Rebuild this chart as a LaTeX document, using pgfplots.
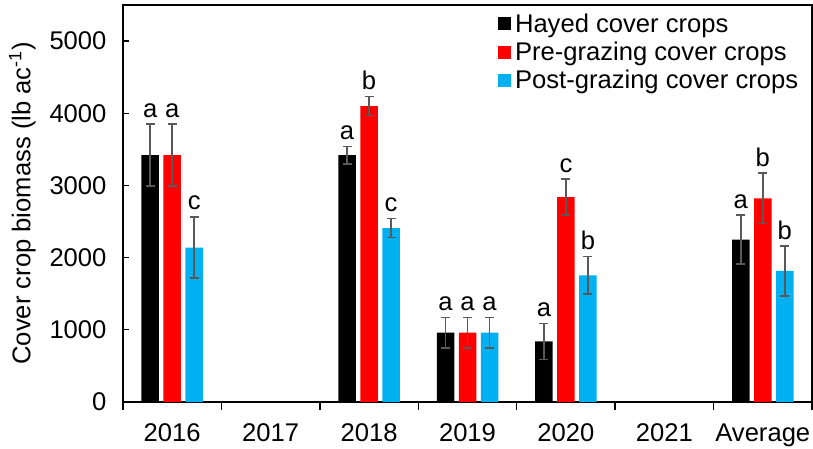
\documentclass[border=0pt]{standalone}
\usepackage{pgfplots}
\pgfplotsset{compat=1.18}
\usepackage{pgfplotstable}
\usepackage{fontspec}
\setmainfont{Liberation Sans}
\definecolor{hay}{HTML}{000000}
\definecolor{pre}{HTML}{FF0000}
\definecolor{post}{HTML}{00B0F0}
\definecolor{errc}{HTML}{595959}
\pgfplotstableread{
x h he ht hl p pe pt pl q qe qt ql
0 3420 430 3850 a 3420 430 3850 a 2140 425 2565 c
2 3420 120 3540 a 4100 130 4230 b 2410 130 2540 c
3 960 210 1170 a 960 210 1170 a 960 210 1170 a
4 840 250 1090 a 2840 250 3090 c 1755 260 2015 b
6 2250 340 2590 a 2820 350 3170 b 1815 345 2160 b
}\data
\begin{document}
\begin{tikzpicture}
\path[use as bounding box] (-123pt,-46pt) rectangle (690pt,402pt);
\begin{axis}[
  at={(0,0)}, anchor=south west,
  scale only axis, width=689pt, height=397pt,
  font=\fontsize{25.6}{30}\selectfont,
  ybar, bar width=17.5pt,
  xmin=-0.5, xmax=6.5, ymin=0, ymax=5500,
  xtick={0,...,6},
  xticklabels={2016,2017,2018,2019,2020,2021,Average},
  minor xtick={-0.5,0.5,...,6.5},
  ytick={0,1000,...,5000},
  xtick pos=bottom, ytick pos=left,
  tick align=inside,
  major tick length=6pt, minor tick length=8pt,
  xtick style={draw=none},
  minor x tick style={draw=black, line width=1.3pt, yshift=-8pt},
  ytick style={line width=1.3pt, black},
  axis line style={line width=1.3pt, black},
  /pgf/number format/1000 sep={},
  /pgf/number format/assume math mode=true,
  yticklabel style={xshift=-13pt},
  xticklabel style={yshift=-18pt},
  ylabel={Cover crop biomass (lb ac\textsuperscript{-1})},
  ylabel style={at={(axis description cs:-0.1263,0.5)}, anchor=south, inner sep=0pt},
  legend style={at={(axis description cs:0.544,0.983)}, anchor=north west, draw=none, fill=none, inner sep=0pt, nodes={inner sep=2pt}, row sep=4pt},
  legend cell align=left,
  legend image code/.code={\fill[#1] (0pt,-6.5pt) rectangle (13pt,6.5pt);},
  error bars/error bar style={line width=1.5pt, errc},
  error bars/error mark options={rotate=90, mark size=4.5pt, line width=1.5pt, errc},
  nodes near coords style={font=\fontsize{25.6}{30}\selectfont, inner sep=6.5pt, anchor=south, black},
]
\addplot[fill=hay, draw=none, bar shift=-22pt, error bars/.cd, y dir=both, y explicit]
  table[x=x, y=h, y error=he]{\data};
\addlegendentry{\hspace{2pt}Hayed cover crops}
\addplot[fill=pre, draw=none, bar shift=0pt, error bars/.cd, y dir=both, y explicit]
  table[x=x, y=p, y error=pe]{\data};
\addlegendentry{\hspace{2pt}Pre-grazing cover crops}
\addplot[fill=post, draw=none, bar shift=22pt, error bars/.cd, y dir=both, y explicit]
  table[x=x, y=q, y error=qe]{\data};
\addlegendentry{\hspace{2pt}Post-grazing cover crops}
\addplot[forget plot, draw=none, fill=none, bar shift=-22pt, nodes near coords, point meta=explicit symbolic]
  table[x=x, y=ht, meta=hl]{\data};
\addplot[forget plot, draw=none, fill=none, bar shift=0pt, nodes near coords, point meta=explicit symbolic]
  table[x=x, y=pt, meta=pl]{\data};
\addplot[forget plot, draw=none, fill=none, bar shift=22pt, nodes near coords, point meta=explicit symbolic]
  table[x=x, y=qt, meta=ql]{\data};
\end{axis}
\end{tikzpicture}
\end{document}
